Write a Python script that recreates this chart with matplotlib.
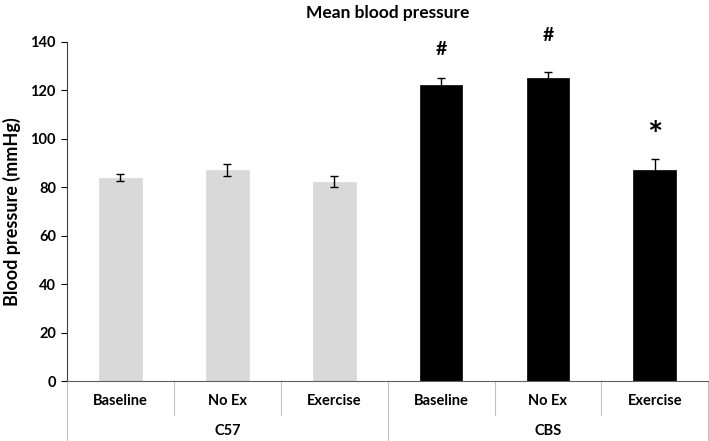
import matplotlib
matplotlib.use('Agg')
from matplotlib import pyplot as plt
import numpy as np

plt.rcParams['font.family'] = ['Lato', 'DejaVu Sans']
plt.rcParams['font.weight'] = 'bold'

groups = ['C57', 'CBS']
conditions = ['Baseline', 'No Ex', 'Exercise']
c57_mean = [84.0, 87.0, 82.2]
c57_err = [1.6, 2.4, 2.3]
cbs_mean = [122.3, 125.2, 87.2]
cbs_err = [2.6, 2.3, 4.5]
cbs_marks = ['#', '#', '*']
mark_heights = [137, 142.5, 104]
yticks = [0, 20, 40, 60, 80, 100, 120, 140]

fig = plt.figure(figsize=(7.09, 4.41), dpi=100)
ax = fig.add_axes([0.0945, 0.136, 0.9045, 0.769])

x = np.arange(6) + 0.5
means = c57_mean + cbs_mean
errs = c57_err + cbs_err
colors = ['#d9d9d9'] * 3 + ['black'] * 3
ax.bar(x, means, width=0.4, color=colors, edgecolor=colors, linewidth=0.5)
ax.errorbar(x, means, yerr=errs, fmt='none', ecolor='black', elinewidth=1,
            capsize=3, capthick=1)

for xi, m, h in zip(x[3:], cbs_marks, mark_heights):
    fs = 26 if m == '*' else 14
    yy = h - 3 if m == '*' else h
    ax.text(xi, yy, m, ha='center', va='center', fontsize=fs, fontweight='bold',
            clip_on=False)

ax.set_xlim(0, 6)
ax.set_ylim(0, 140)
ax.set_yticks(yticks)
ax.tick_params(axis='y', direction='out', length=4, width=0.8, labelsize=10.5, pad=4)
ax.spines['top'].set_visible(False)
ax.spines['right'].set_visible(False)
ax.spines['left'].set_color('#404040')
ax.spines['bottom'].set_color('#606060')
ax.set_xticks([])
ax.set_ylabel('Blood pressure (mmHg)', fontsize=13, fontweight='bold', labelpad=7)
ax.set_title('Mean blood pressure', fontsize=12.5, fontweight='bold', pad=17)

trans = ax.get_xaxis_transform()
# condition labels and short separators
for i in range(6):
    ax.text(x[i], -0.059, conditions[i % 3], transform=trans, ha='center',
            va='center', fontsize=10.5, fontweight='bold')
for i in [1, 2, 4, 5]:
    ax.plot([i, i], [0, -0.10], transform=trans, color='#c0c0c0', lw=0.8, clip_on=False)
# group labels and long separators
for j, g in enumerate(groups):
    ax.text(3 * j + 1.5, -0.147, g, transform=trans, ha='center', va='center',
            fontsize=10.5, fontweight='bold')
for i in [0, 3, 6]:
    ax.plot([i, i], [0, -0.18], transform=trans, color='#c0c0c0', lw=0.8, clip_on=False)

fig.savefig('out.png', dpi=100)
